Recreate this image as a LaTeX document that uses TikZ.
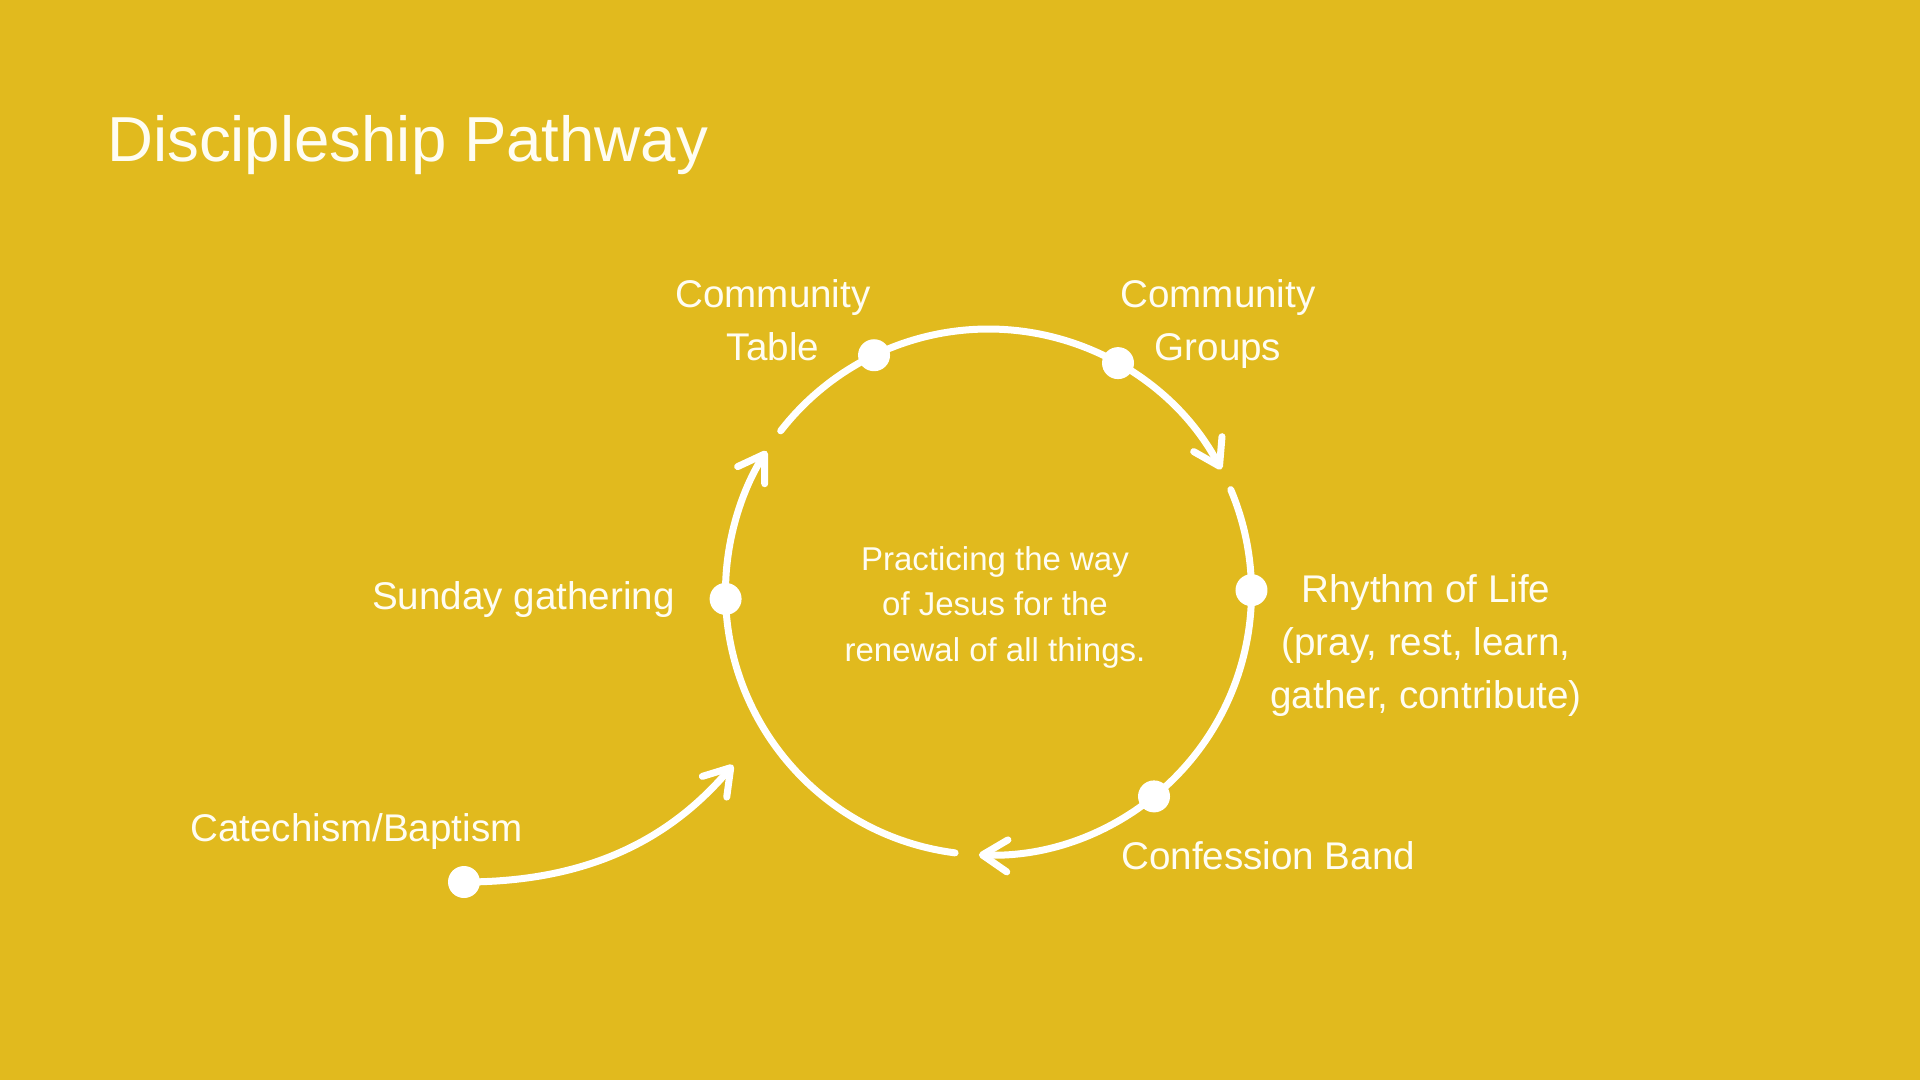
\documentclass[tikz,border=0pt]{standalone}
\usepackage{fontspec}
\setmainfont{Liberation Sans}
\usetikzlibrary{arrows.meta}
\definecolor{bg}{RGB}{225,186,30}
\definecolor{ink}{RGB}{255,253,242}
\begin{document}
\begin{tikzpicture}[x=1pt,y=1pt,
  line/.style={white, line width=7pt, line cap=round},
  arr/.style={line, -{Straight Barb[length=25pt,width=32pt,round]}},
  dot/.style={circle, fill=white, minimum size=32pt, inner sep=0pt},
  lbl/.style={text=ink, inner sep=0pt, font=\fontsize{38.6}{53}\selectfont},
  mid/.style={text=ink, inner sep=0pt, font=\fontsize{33}{45.5}\selectfont},
  ttl/.style={text=ink, inner sep=0pt, font=\fontsize{63.6}{70}\selectfont}]
\fill[bg] (0,0) rectangle (1920,-1080);
\useasboundingbox (0,0) rectangle (1920,-1080);

\coordinate (C) at (988.5,-592);
% arc end points
\coordinate (a1s) at ([shift={(142.2:263)}]C);
\coordinate (a2s) at ([shift={(22.9:263)}]C);
\coordinate (a3s) at ([shift={(262.7:263)}]C);

% arcs
\draw[arr] (a1s) arc[start angle=142.2, end angle=27.8, radius=263];
\draw[arr] (a2s) arc[start angle=22.9, end angle=-92.1, radius=263];
\draw[arr] (a3s) arc[start angle=262.7, end angle=147.6, radius=263];

% dots on the cycle
\node[dot] (table) at ([shift={(115.8:263)}]C) {};
\node[dot] (groups) at ([shift={(60.5:263)}]C) {};
\node[dot] (rhythm) at ([shift={(0.4:263)}]C) {};
\node[dot] (confession) at ([shift={(-51:263)}]C) {};
\node[dot] (sunday) at ([shift={(181.5:263)}]C) {};

% entry path
\node[dot] (catechism) at (464,-882) {};
\coordinate (entry) at (733,-765);
\draw[arr] (catechism.center) .. controls (580,-882) and (665,-845) .. (entry);

% labels
\node[ttl, anchor=base west] (title) at (107,-161) {Discipleship Pathway};
\node[lbl, anchor=base] (tableL) at (773,-307) {\begin{tabular}[t]{@{}c@{}}Community\\Table\end{tabular}};
\node[lbl, anchor=base] (groupsL) at (1218,-307) {\begin{tabular}[t]{@{}c@{}}Community\\Groups\end{tabular}};
\node[lbl, anchor=base east] (sundayL) at (675,-609) {Sunday gathering};
\node[lbl, anchor=base] (rhythmL) at (1426,-602) {\begin{tabular}[t]{@{}c@{}}Rhythm of Life\\(pray, rest, learn,\\gather, contribute)\end{tabular}};
\node[lbl, anchor=base west] (confL) at (1121,-869) {Confession Band};
\node[lbl, anchor=base west] (catL) at (190,-841) {Catechism/Baptism};
\node[mid, anchor=base] (mission) at (995,-570) {\begin{tabular}[t]{@{}c@{}}Practicing the way\\of Jesus for the\\renewal of all things.\end{tabular}};
\end{tikzpicture}
\end{document}
